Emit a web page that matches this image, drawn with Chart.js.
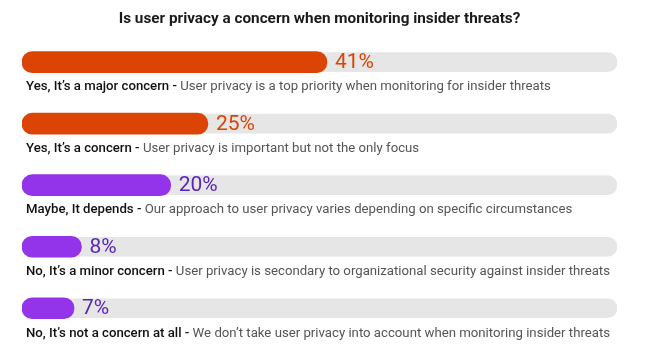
<!DOCTYPE html>
<html>
<head>
<meta charset="utf-8">
<script src="https://cdn.jsdelivr.net/npm/chart.js@4"></script>
<style>
  html, body { margin: 0; padding: 0; background: #fff; }
  #wrap { width: 649px; height: 352px; }
</style>
</head>
<body>
<div id="wrap"><canvas id="privacyChart" width="649" height="352"></canvas></div>
<script>
// data
const categories = [
    'Yes, It’s a major concern',
    'Yes, It’s a concern',
    'Maybe, It depends',
    'No, It’s a minor concern',
    'No, It’s not a concern at all'
];
const descriptions = [
    'User privacy is a top priority when monitoring for insider threats',
    'User privacy is important but not the only focus',
    'Our approach to user privacy varies depending on specific circumstances',
    'User privacy is secondary to organizational security against insider threats',
    'We don’t take user privacy into account when monitoring insider threats'
];
const values = [41, 25, 20, 8, 7];
const scaleMax = 80;

// styles
const barColors = ['#dc4405', '#dc4405', '#9333ea', '#9333ea', '#9333ea'];
const pctColors = ['#dc4405', '#dc4405', '#5a26b8', '#5a26b8', '#5a26b8'];
const FONT = 'Roboto, "Open Sans", sans-serif';

// percent labels + text line under every bar
const labelPlugin = {
    id: 'barLabels',
    afterDatasetsDraw(chart) {
        const ctx = chart.ctx;
        const x = chart.scales.x;
        const y = chart.scales.y;
        const left = chart.chartArea.left;
        ctx.save();
        values.forEach((v, i) => {
            const cy = y.getPixelForValue(i);
            // percent
            ctx.font = '21px ' + FONT;
            ctx.fillStyle = pctColors[i];
            ctx.textBaseline = 'middle';
            ctx.textAlign = 'left';
            ctx.fillText(v + '%', x.getPixelForValue(v) + 8, cy + 1);
            // label line
            const ty = cy + 25;
            const head = categories[i] + ' - ';
            ctx.font = '500 13.2px ' + FONT;
            ctx.fillStyle = '#111';
            ctx.fillText(head, left + 4, ty);
            const w = ctx.measureText(head).width;
            ctx.font = '13.2px ' + FONT;
            ctx.fillStyle = '#555';
            ctx.fillText(descriptions[i], left + 4 + w, ty);
        });
        ctx.restore();
    }
};

new Chart(document.getElementById('privacyChart'), {
    type: 'bar',
    data: {
        labels: categories,
        datasets: [{
            data: values,
            backgroundColor: barColors,
            barThickness: 21,
            borderRadius: 11,
            borderSkipped: false,
            grouped: false,
            order: 0
        }, {
            data: values.map(() => scaleMax),
            backgroundColor: '#e6e6e6',
            barThickness: 19,
            borderRadius: 10,
            borderSkipped: false,
            grouped: false,
            order: 1
        }]
    },
    options: {
        indexAxis: 'y',
        responsive: false,
        animation: false,
        layout: { padding: { left: 22, right: 32, top: 0, bottom: 13 } },
        scales: {
            x: { display: false, min: 0, max: scaleMax },
            y: { display: false }
        },
        plugins: {
            legend: { display: false },
            tooltip: { enabled: false },
            title: {
                display: true,
                text: 'Is user privacy a concern when monitoring insider threats?',
                color: '#1a1a1a',
                font: { family: FONT, size: 15.3, weight: 'bold' },
                padding: { top: 10, bottom: 3 }
            }
        }
    },
    plugins: [labelPlugin]
});
</script>
</body>
</html>
